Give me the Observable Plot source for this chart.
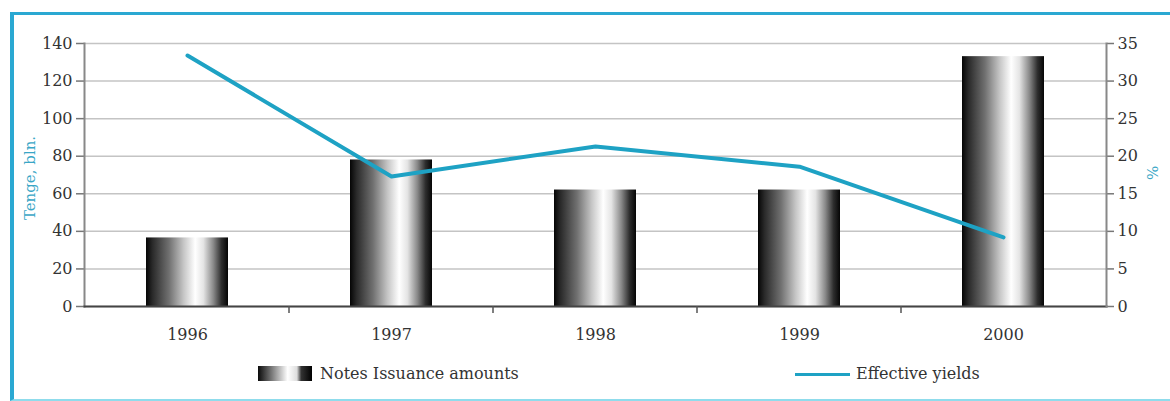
<!DOCTYPE html>
<html>
<head>
<meta charset="utf-8">
<script src="https://cdn.jsdelivr.net/npm/d3@7"></script>
<script src="https://cdn.jsdelivr.net/npm/@observablehq/plot@0.6"></script>
<style>
  html, body { margin: 0; padding: 0; background: #fff; }
  #wrap { position: relative; width: 1170px; height: 401px; overflow: hidden; font-family: "DejaVu Serif", serif; }
  #frame { position: absolute; left: 10px; top: 12px; width: 1170px; height: 384px;
           border-top: 3px solid #2aa8d2; border-left: 4px solid #2aa8d2; border-bottom: 2px solid #8fdcec; box-sizing: content-box; }
  .layer { position: absolute; left: 0; top: 0; }
  .ylab { position: absolute; color: #39a6c6; font-size: 15px; white-space: nowrap; }
  .leg { position: absolute; font-size: 16px; color: #333; white-space: nowrap; }
</style>
</head>
<body>
<div id="wrap">
  <div id="frame"></div>
  <div id="main" class="layer"></div>
  <div id="over" class="layer"></div>
  <div class="ylab" style="left:30px; top:178px; transform: translate(-50%,-50%) rotate(-90deg);">Tenge, bln.</div>
  <div class="ylab" style="left:1152px; top:173px; transform: translate(-50%,-50%) rotate(90deg);">%</div>
  <svg class="leg" style="left:258px; top:366px;" width="54" height="15">
    <defs>
      <linearGradient id="legGrad" x1="0" x2="1" y1="0" y2="0">
        <stop offset="0" stop-color="#0a0a0a"/>
        <stop offset="0.25" stop-color="#777"/>
        <stop offset="0.55" stop-color="#fff"/>
        <stop offset="0.72" stop-color="#ddd"/>
        <stop offset="0.8" stop-color="#333"/>
        <stop offset="1" stop-color="#000"/>
      </linearGradient>
    </defs>
    <rect x="0" y="0" width="54" height="15" fill="url(#legGrad)"/>
  </svg>
  <div class="leg" style="left:320px; top:364px;">Notes Issuance amounts</div>
  <div class="leg" style="left:795px; top:373px; width:55px; height:3px; background:#1ea2c4;"></div>
  <div class="leg" style="left:856px; top:364px;">Effective yields</div>
</div>
<script>
const years = ["1996", "1997", "1998", "1999", "2000"];
const issuance = [36.5, 78, 62, 62, 133];
const yields = [33.4, 17.3, 21.3, 18.6, 9.2];
const leftTicks = [0, 20, 40, 60, 80, 100, 120, 140];
const rightTicks = [0, 5, 10, 15, 20, 25, 30, 35];

const barData = years.map((y, i) => ({year: y, value: issuance[i]}));
const lineData = years.map((y, i) => ({year: y, value: yields[i]}));

const W = 1170, H = 345;
const margins = {marginLeft: 84, marginRight: 64, marginTop: 43, marginBottom: 39};
const xOpts = {type: "band", domain: years, paddingInner: 0.6, paddingOuter: 0.3};
const font = "DejaVu Serif, serif";

// between-category ticks on x axis (computed from the band scale)
function betweenTicks(index, scales, values, dims) {
  const g = d3.create("svg:g");
  const x = scales.x;
  const step = x.step ? x.step() : (x.bandwidth() / 0.4);
  const y0 = dims.height - dims.marginBottom;
  years.slice(0, -1).forEach(yr => {
    const xc = scales.x(yr) + x.bandwidth() / 2 + step / 2;
    g.append("line").attr("x1", xc).attr("x2", xc).attr("y1", y0).attr("y2", y0 + 7)
      .attr("stroke", "#555").attr("stroke-width", 1.5);
  });
  return g.node();
}

const main = Plot.plot({
  width: W, height: H, ...margins,
  style: {fontFamily: font, fontSize: "16px", color: "#333", background: "transparent"},
  x: {...xOpts, label: null},
  y: {domain: [0, 140], label: null},
  marks: [
    Plot.gridY(leftTicks, {stroke: "#c4c4c4", strokeOpacity: 1, strokeWidth: 1.5}),
    Plot.barY(barData, {x: "year", y: "value", fill: "url(#barGrad)"}),
    Plot.axisY({ticks: leftTicks, tickSize: 8, tickPadding: 4, stroke: "#777", strokeWidth: 1.5, fill: "#333", label: null}),
    Plot.axisX({tickSize: 0, tickPadding: 22, fill: "#333", label: null}),
    Plot.frame({anchor: "left", stroke: "#888", strokeWidth: 2}),
    Plot.frame({anchor: "bottom", stroke: "#444", strokeWidth: 2}),
    betweenTicks
  ]
});
d3.select(main).insert("defs", ":first-child").html(`
  <linearGradient id="barGrad" x1="0" x2="1" y1="0" y2="0">
    <stop offset="0" stop-color="#050505"/>
    <stop offset="0.08" stop-color="#2a2a2a"/>
    <stop offset="0.28" stop-color="#707070"/>
    <stop offset="0.46" stop-color="#c6c6c6"/>
    <stop offset="0.6" stop-color="#ffffff"/>
    <stop offset="0.7" stop-color="#e4e4e4"/>
    <stop offset="0.82" stop-color="#8a8a8a"/>
    <stop offset="0.92" stop-color="#2e2e2e"/>
    <stop offset="1" stop-color="#050505"/>
  </linearGradient>`);
document.getElementById("main").appendChild(main);

const over = Plot.plot({
  width: W, height: H, ...margins,
  style: {fontFamily: font, fontSize: "16px", color: "#333", background: "transparent"},
  x: {...xOpts, axis: null},
  y: {domain: [0, 35], axis: null},
  marks: [
    Plot.axisY({anchor: "right", ticks: rightTicks, tickSize: 7, tickPadding: 4, stroke: "#777", strokeWidth: 1.5, fill: "#333", label: null}),
    Plot.frame({anchor: "right", stroke: "#888", strokeWidth: 2}),
    Plot.lineY(lineData, {x: "year", y: "value", stroke: "#1ea2c4", strokeWidth: 4})
  ]
});
document.getElementById("over").appendChild(over);
</script>
</body>
</html>
